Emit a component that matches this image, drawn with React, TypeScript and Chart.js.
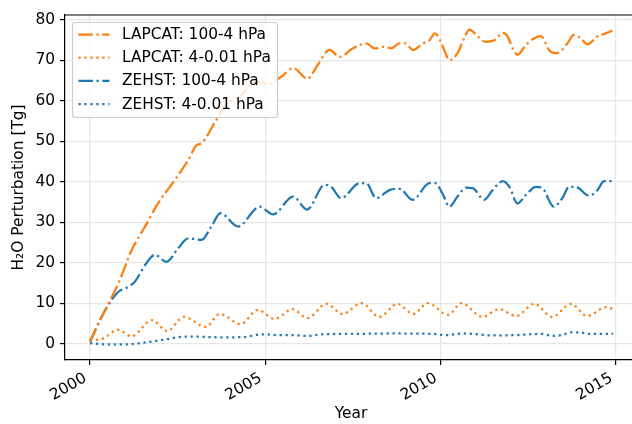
import React, { useEffect, useRef } from "react";
import { Chart, registerables } from "chart.js";

Chart.register(...registerables);

const FONT = "'DejaVu Sans', 'Liberation Sans', sans-serif";
const FONT_PX = 15.4;

const xTicks = [2000, 2005, 2010, 2015];
const yTicks = [0, 10, 20, 30, 40, 50, 60, 70, 80];
const xTitle = "Year";
const yTitle = "H\u2082O Perturbation [Tg]";

const labels = [
  "LAPCAT: 100-4 hPa",
  "LAPCAT: 4-0.01 hPa",
  "ZEHST: 100-4 hPa",
  "ZEHST: 4-0.01 hPa",
];

const lapcatLowerYears = [
  2000.0, 2000.43, 2000.81, 2001.19, 2001.57, 2001.94, 2002.42, 2002.8, 2003.04, 2003.18,
  2003.6, 2003.87, 2004.27, 2004.74, 2005.1, 2005.45, 2005.8, 2006.2, 2006.5, 2006.83,
  2007.12, 2007.5, 2007.88, 2008.11, 2008.4, 2008.59, 2008.83, 2009.0, 2009.2, 2009.49,
  2009.68, 2009.84, 2009.98, 2010.1, 2010.25, 2010.48, 2010.67, 2010.82, 2011.06, 2011.29,
  2011.53, 2011.77, 2011.91, 2012.05, 2012.19, 2012.43, 2012.67, 2012.86, 2013.09, 2013.24,
  2013.42, 2013.61, 2013.8, 2013.99, 2014.18, 2014.47, 2014.71, 2014.9,
];
const lapcatLowerValues = [
  0.6, 8.4, 15, 23.2, 29, 34.7, 40.5, 45.4, 49.1, 49.6,
  55.3, 59, 61.1, 64.8, 64.2, 66, 68.1, 65.5, 69, 72.6,
  70.9, 73, 74.2, 73, 73.4, 73, 74.2, 74.2, 72.6, 74.2,
  75, 76.7, 75, 72.6, 70.1, 71.8, 75.5, 77.6, 75.9, 74.6,
  75, 76.8, 75.9, 73, 71.4, 73.8, 75.5, 76, 72.6, 71.8,
  72.2, 74.2, 76.3, 75.5, 74, 75.9, 76.7, 77.4,
];

const lapcatUpperYears = [
  2000.0, 2000.38, 2000.8, 2001.18, 2001.77, 2002.2, 2002.68, 2003.3, 2003.7, 2004.3,
  2004.78, 2005.27, 2005.78, 2006.2, 2006.74, 2007.2, 2007.74, 2008.25, 2008.77, 2009.22,
  2009.62, 2010.22, 2010.59, 2011.19, 2011.67, 2012.15, 2012.67, 2013.18, 2013.72, 2014.18,
  2014.72, 2014.92,
];
const lapcatUpperValues = [
  0.8, 1.4, 3.5, 1.9, 5.9, 3.2, 6.7, 4.2, 7.4, 4.9,
  8.4, 6.2, 8.6, 6.4, 9.9, 7.4, 10.1, 6.7, 9.9, 7.4,
  10.1, 7.2, 10.1, 6.7, 8.6, 6.9, 9.9, 6.7, 9.9, 6.9,
  9.1, 8.6,
];

const zehstLowerYears = [
  2000.0, 2000.33, 2000.62, 2000.81, 2001.09, 2001.28, 2001.57, 2001.85, 2002.18, 2002.51,
  2002.8, 2003.18, 2003.46, 2003.72, 2004.22, 2004.84, 2005.22, 2005.79, 2006.19, 2006.69,
  2006.88, 2007.16, 2007.69, 2007.88, 2008.16, 2008.54, 2008.83, 2009.2, 2009.68, 2009.85,
  2010.06, 2010.25, 2010.48, 2010.72, 2010.91, 2011.24, 2011.48, 2011.77, 2011.96, 2012.19,
  2012.43, 2012.71, 2012.9, 2013.22, 2013.47, 2013.66, 2013.85, 2014.23, 2014.47, 2014.66,
  2014.9,
];
const zehstLowerValues = [
  0.6, 6.7, 10.9, 12.9, 14.1, 15.4, 19.5, 22, 20.3, 23.6,
  26.1, 25.7, 29, 32.3, 29, 33.9, 32, 36.4, 33.2, 39.3,
  38.8, 36, 39.7, 39.7, 36, 38, 38.3, 35.6, 39.7, 39.7,
  37, 33.9, 36.4, 38.6, 38.5, 35.6, 38, 40.2, 38.8, 34.7,
  36.8, 38.8, 38.5, 33.9, 36, 38.8, 38.8, 36.6, 38, 40.2,
  40.2,
];

const zehstUpperYears = [
  2000.0, 2000.5, 2001.0, 2001.6, 2002.2, 2002.65, 2003.0, 2003.7, 2004.36, 2004.9,
  2005.4, 2005.8, 2006.17, 2006.63, 2007.5, 2008.74, 2009.27, 2009.77, 2010.16, 2010.62,
  2010.99, 2011.47, 2012.12, 2012.89, 2013.18, 2013.45, 2013.75, 2014.04, 2014.22, 2014.8,
  2014.92,
];
const zehstUpperValues = [
  0.2, -0.1, -0.1, 0.4, 1.2, 1.8, 1.8, 1.65, 1.7, 2.4,
  2.2, 2.2, 2.0, 2.4, 2.5, 2.6, 2.55, 2.5, 2.2, 2.6,
  2.45, 2.1, 2.2, 2.5, 2.0, 2.2, 2.9, 2.8, 2.5, 2.5,
  2.5,
];

const ORANGE = "#ff7f0e";
const BLUE = "#1f77b4";
const LW = 2.25;
const DASHDOT = [14.4, 3.6, 2.25, 3.6];
const DOTTED = [2.25, 3.7];

const toPoints = (xs: number[], ys: number[]) => xs.map((x, i) => ({ x, y: ys[i] }));

const decorPlugin = {
  id: "decor",
  afterDraw(chart: any) {
    const { ctx, chartArea: a, scales } = chart;
    ctx.save();
    // top spine
    ctx.strokeStyle = "#000";
    ctx.lineWidth = 1.2;
    ctx.beginPath();
    ctx.moveTo(a.left, a.top);
    ctx.lineTo(a.right, a.top);
    ctx.stroke();

    // rotated x tick labels
    ctx.font = `${FONT_PX}px ${FONT}`;
    ctx.fillStyle = "#000";
    const xs = scales.x;
    const y0 = a.bottom + 10.5;
    const h = FONT_PX * 1.1;
    for (const v of xTicks) {
      const px = xs.getPixelForValue(v);
      ctx.save();
      ctx.translate(px - h * 0.5, y0);
      ctx.rotate(-Math.PI / 6);
      ctx.textAlign = "right";
      ctx.textBaseline = "top";
      ctx.fillText(String(v), 0, 0);
      ctx.restore();
    }

    // axis titles
    ctx.textAlign = "center";
    ctx.textBaseline = "middle";
    ctx.fillText(xTitle, 351, 414);
    ctx.save();
    ctx.translate(19, (a.top + a.bottom) / 2);
    ctx.rotate(-Math.PI / 2);
    ctx.fillText(yTitle, 0, 0);
    ctx.restore();

    // legend
    const bx = a.left + 7.5;
    const by = a.top + 7.5;
    const bw = 205;
    const bh = 95;
    ctx.beginPath();
    if (ctx.roundRect) ctx.roundRect(bx, by, bw, bh, 3);
    else ctx.rect(bx, by, bw, bh);
    ctx.fillStyle = "rgba(255,255,255,0.8)";
    ctx.fill();
    ctx.strokeStyle = "#cccccc";
    ctx.lineWidth = 1.2;
    ctx.stroke();
    const datasets = chart.data.datasets;
    ctx.textAlign = "left";
    ctx.textBaseline = "middle";
    datasets.forEach((ds: any, i: number) => {
      const cy = by + 12 + i * 23.2;
      ctx.strokeStyle = ds.borderColor;
      ctx.lineWidth = LW;
      ctx.setLineDash(ds.borderDash || []);
      ctx.beginPath();
      ctx.moveTo(bx + 6, cy);
      ctx.lineTo(bx + 37, cy);
      ctx.stroke();
      ctx.setLineDash([]);
      ctx.fillStyle = "#000";
      ctx.fillText(ds.label, bx + 49.5, cy + 0.5);
    });
    ctx.restore();
  },
};

export default function App() {
  const ref = useRef<HTMLCanvasElement>(null);
  useEffect(() => {
    if (!ref.current) return;
    const chart = new Chart(ref.current, {
      type: "line",
      data: {
        datasets: [
          {
            label: labels[0],
            data: toPoints(lapcatLowerYears, lapcatLowerValues),
            borderColor: ORANGE,
            borderDash: DASHDOT,
          },
          {
            label: labels[1],
            data: toPoints(lapcatUpperYears, lapcatUpperValues),
            borderColor: ORANGE,
            borderDash: DOTTED,
          },
          {
            label: labels[2],
            data: toPoints(zehstLowerYears, zehstLowerValues),
            borderColor: BLUE,
            borderDash: DASHDOT,
          },
          {
            label: labels[3],
            data: toPoints(zehstUpperYears, zehstUpperValues),
            borderColor: BLUE,
            borderDash: DOTTED,
          },
        ].map((d) => ({
          ...d,
          borderWidth: LW,
          pointRadius: 0,
          fill: false,
          cubicInterpolationMode: "monotone" as const,
        })),
      },
      options: {
        responsive: false,
        animation: false,
        devicePixelRatio: 1,
        layout: { padding: { top: 15, left: 0, right: 0, bottom: 0 } },
        plugins: { legend: { display: false }, tooltip: { enabled: false } },
        scales: {
          x: {
            type: "linear",
            min: 1999.287,
            max: 2015.456,
            afterBuildTicks: (s: any) => {
              s.ticks = xTicks.map((v) => ({ value: v }));
            },
            afterFit: (s: any) => {
              s.height = 64;
            },
            ticks: { display: false },
            grid: {
              color: "#e6e6e6",
              lineWidth: 1.2,
              tickColor: "#000",
              tickLength: 5,
              tickWidth: 1.2,
            },
            border: { display: true, color: "#000", width: 1.2 },
          },
          y: {
            type: "linear",
            min: -3.95,
            max: 81.23,
            afterBuildTicks: (s: any) => {
              s.ticks = yTicks.map((v) => ({ value: v }));
            },
            afterFit: (s: any) => {
              s.width = 65;
            },
            ticks: {
              color: "#000",
              font: { family: FONT, size: FONT_PX },
              padding: 5,
              callback: (v: any) => String(v),
            },
            grid: {
              color: "#e6e6e6",
              lineWidth: 1.2,
              tickColor: "#000",
              tickLength: 5,
              tickWidth: 1.2,
            },
            border: { display: true, color: "#000", width: 1.2 },
          },
        },
      },
      plugins: [decorPlugin],
    });
    return () => chart.destroy();
  }, []);
  return (
    <div style={{ position: "fixed", left: 0, top: 0, width: 632, height: 424, background: "#fff" }}>
      <canvas ref={ref} width={632} height={424} style={{ display: "block" }} />
    </div>
  );
}
